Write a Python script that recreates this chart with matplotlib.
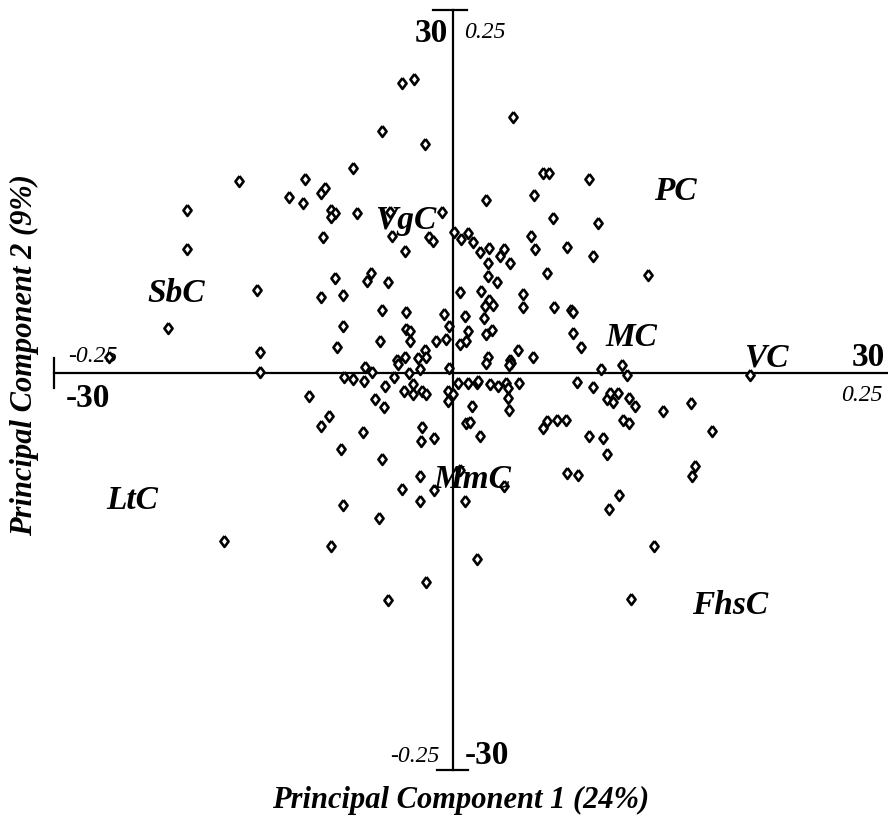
import matplotlib.pyplot as plt

# PCA scores (PC1, PC2)
pc1 = [-3.8, -2.9, -5.3, -2.1, -7.5, -16.1, -11.1, -12.3, -11.3, -9.9, -9.6, -20.0, -9.2, -8.9,
       -9.2, -7.2, -4.7, -0.8, -9.8, -4.6, -3.6, -1.8, -1.5, -20.0, -8.9, -6.5, -6.2, -4.9,
       -14.7, -9.9, -8.3, -5.3, -3.5, -0.7, -0.3, -21.4, -8.3, -3.5, -3.2, -3.2, -5.5, -1.3,
       -0.5, -8.7, -14.5, -2.1, -2.6, -2.0, -3.6, -4.2, -4.1, -6.6, -6.1, -2.5, -0.3, -14.5,
       -25.9, -3.3,
       -8.2, -7.5, -6.7, -4.4, -5.1, -3.0, -3.7, -3.0, -2.3, -2.0, -0.4, 0.0, -0.4, -10.8,
       -5.9, -5.2, -9.3, -9.9, -6.8, -2.3, -2.4, -1.4, -8.4, -5.3, -2.5, -3.8, -1.4, -8.3,
       -2.5, -5.6, -17.2, -9.2, -2.0, -4.9,
       4.5, 6.8, 7.2, 10.2, 2.5, 6.1, 7.5, 10.9, 0.1, 0.6, 1.1, 1.5, 2.0, 2.7, 2.6, 3.5, 3.8,
       4.3, 5.9, 6.2, 8.6, 10.5, 7.1, 2.6, 3.3, 14.7, 0.5, 2.1, 2.7, 2.4, 3.0, 5.3, 5.3, 7.6,
       8.9, 9.0, 0.9, 2.3, 1.1, 2.9, 2.5, 0.5, 1.0, 9.0, 9.6, 4.9, 6.0, 2.6, 2.5, 4.3, 4.4,
       4.2, 11.1, 12.7,
       0.4, 1.1, 1.8, 1.9, 2.8, 3.4, 4.0, 4.1, 4.1, 4.2, 5.0, 1.4, 1.0, 1.3, 2.0, 6.8, 7.1,
       7.8, 8.5, 9.3, 10.5, 13.1, 11.6, 11.8, 12.0, 12.4, 13.2, 13.7, 12.8, 13.2, 15.8, 17.9,
       19.5, 10.2, 11.3, 11.6, 18.2, 18.0, 8.6, 9.4, 12.5, 11.7, 15.1, 13.4, 1.8, 0.9, 3.8,
       0.5, 22.3]
pc2 = [23.0, 23.3, 19.2, 18.2, 16.3, 15.2, 15.4, 14.0, 13.5, 14.3, 14.7, 12.9, 12.9, 12.7,
       12.4, 12.7, 12.8, 12.8, 10.8, 10.9, 9.7, 10.8, 10.5, 9.8, 7.5, 7.3, 7.9, 7.2, 6.6, 6.0,
       6.2, 5.0, 4.8, 4.7, 3.7, 3.6, 3.7, 3.5, 3.3, 2.5, 2.5, 2.5, 2.7, 2.1, 1.7, 1.8, 1.2,
       1.3, 1.3, 1.0, 0.7, 0.5, 0.1, 0.3, 0.4, 0.1, 1.3, 0.0,
       -0.3, -0.5, -0.6, -0.3, -1.0, -0.9, -1.4, -1.7, -1.4, -1.7, -1.4, -1.7, -2.2, -1.8,
       -2.1, -2.7, -3.4, -4.2, -4.7, -4.3, -5.4, -5.2, -6.0, -6.8, -8.2, -9.2, -9.3, -10.5,
       -10.2, -11.5, -13.3, -13.7, -16.6, -18.0,
       20.3, 15.9, 15.9, 15.4, 13.7, 14.1, 12.3, 11.9, 11.2, 10.6, 11.1, 10.4, 9.6, 9.9, 8.7,
       9.3, 9.8, 8.7, 10.9, 9.8, 10.0, 9.3, 7.9, 7.7, 7.2, 7.8, 6.4, 6.5, 5.8, 5.3, 5.4, 6.3,
       5.2, 5.2, 5.0, 4.8, 4.5, 4.4, 3.3, 3.4, 3.1, 2.3, 2.5, 3.2, 2.1, 1.8, 1.3, 1.3, 0.8,
       1.0, 0.8, 0.6, 0.3, 0.6,
       -0.8, -0.8, -0.8, -0.6, -0.9, -1.0, -0.8, -1.2, -2.0, -2.9, -0.8, -2.6, -4.0, -3.9,
       -5.0, -4.4, -3.8, -3.7, -3.7, -0.7, -1.1, -0.2, -2.1, -1.6, -2.3, -1.6, -2.0, -2.6,
       -3.7, -4.0, -3.0, -2.4, -4.6, -5.0, -5.2, -6.4, -7.4, -8.2, -7.9, -8.1, -9.7, -10.8,
       -13.7, -17.9, -14.8, -10.2, -9.0, -7.7, -0.2]

groups = ['VgC', 'PC', 'SbC', 'MC', 'VC', 'LtC', 'MmC', 'FhsC']
axis_label_x = 'Principal Component 1 (24%)'
axis_label_y = 'Principal Component 2 (9%)'

W, H = 888, 819
fig = plt.figure(figsize=(W / 100, H / 100), dpi=100)
ax = fig.add_axes([0, 0, 1, 1])
ax.set_xlim(-34.06, 32.71)
ax.set_ylim(-35.4, 29.6)
ax.axis('off')

serif = 'Liberation Serif'

# crossing axes with end bars
lw = 1.6
ax.plot([-30, 32.71], [0, 0], color='black', lw=lw, zorder=1)
ax.plot([-30, -30], [1.2, -1.2], color='black', lw=lw, zorder=1)
ax.plot([0, 0], [28.8, -31.5], color='black', lw=lw, zorder=1)
ax.plot([-1.5, 1.05], [28.8, 28.8], color='black', lw=lw, zorder=1)
ax.plot([-1.2, 1.1], [-31.5, -31.5], color='black', lw=lw, zorder=1)

# slightly tall open diamond like the original
diamond = [(0, 1), (0.75, 0), (0, -1), (-0.75, 0), (0, 1)]
ax.plot(pc1, pc2, linestyle='none', marker=diamond, markersize=7.8,
        markerfacecolor='white', markeredgecolor='black', markeredgewidth=1.9, zorder=3)


def put(px, py, s, **kw):
    fig.text(px / W, 1 - py / H, s, ha='center', va='center', family=serif, **kw)


# group labels (pixel centres)
label_pos = [(406, 220), (675, 191), (176, 294), (631, 338), (766, 358),
             (132, 500), (472, 480), (730, 605)]
for name, (px, py) in zip(groups, label_pos):
    put(px, py, name, fontsize=24, fontweight='bold', fontstyle='italic', zorder=4)

# axis end values
put(431, 34, '30', fontsize=24, fontweight='bold')
put(868, 357, '30', fontsize=24, fontweight='bold')
put(88, 398, '-30', fontsize=24, fontweight='bold')
put(487, 755, '-30', fontsize=24, fontweight='bold')
put(485, 32, '0.25', fontsize=17, fontstyle='italic')
put(862, 395, '0.25', fontsize=17, fontstyle='italic')
put(93, 356, '-0.25', fontsize=17, fontstyle='italic')
put(415, 757, '-0.25', fontsize=17, fontstyle='italic')

# axis titles
put(461, 800, axis_label_x, fontsize=22, fontweight='bold', fontstyle='italic')
put(24, 355, axis_label_y, fontsize=22, fontweight='bold', fontstyle='italic', rotation=90)

fig.savefig('out.png', dpi=100)
